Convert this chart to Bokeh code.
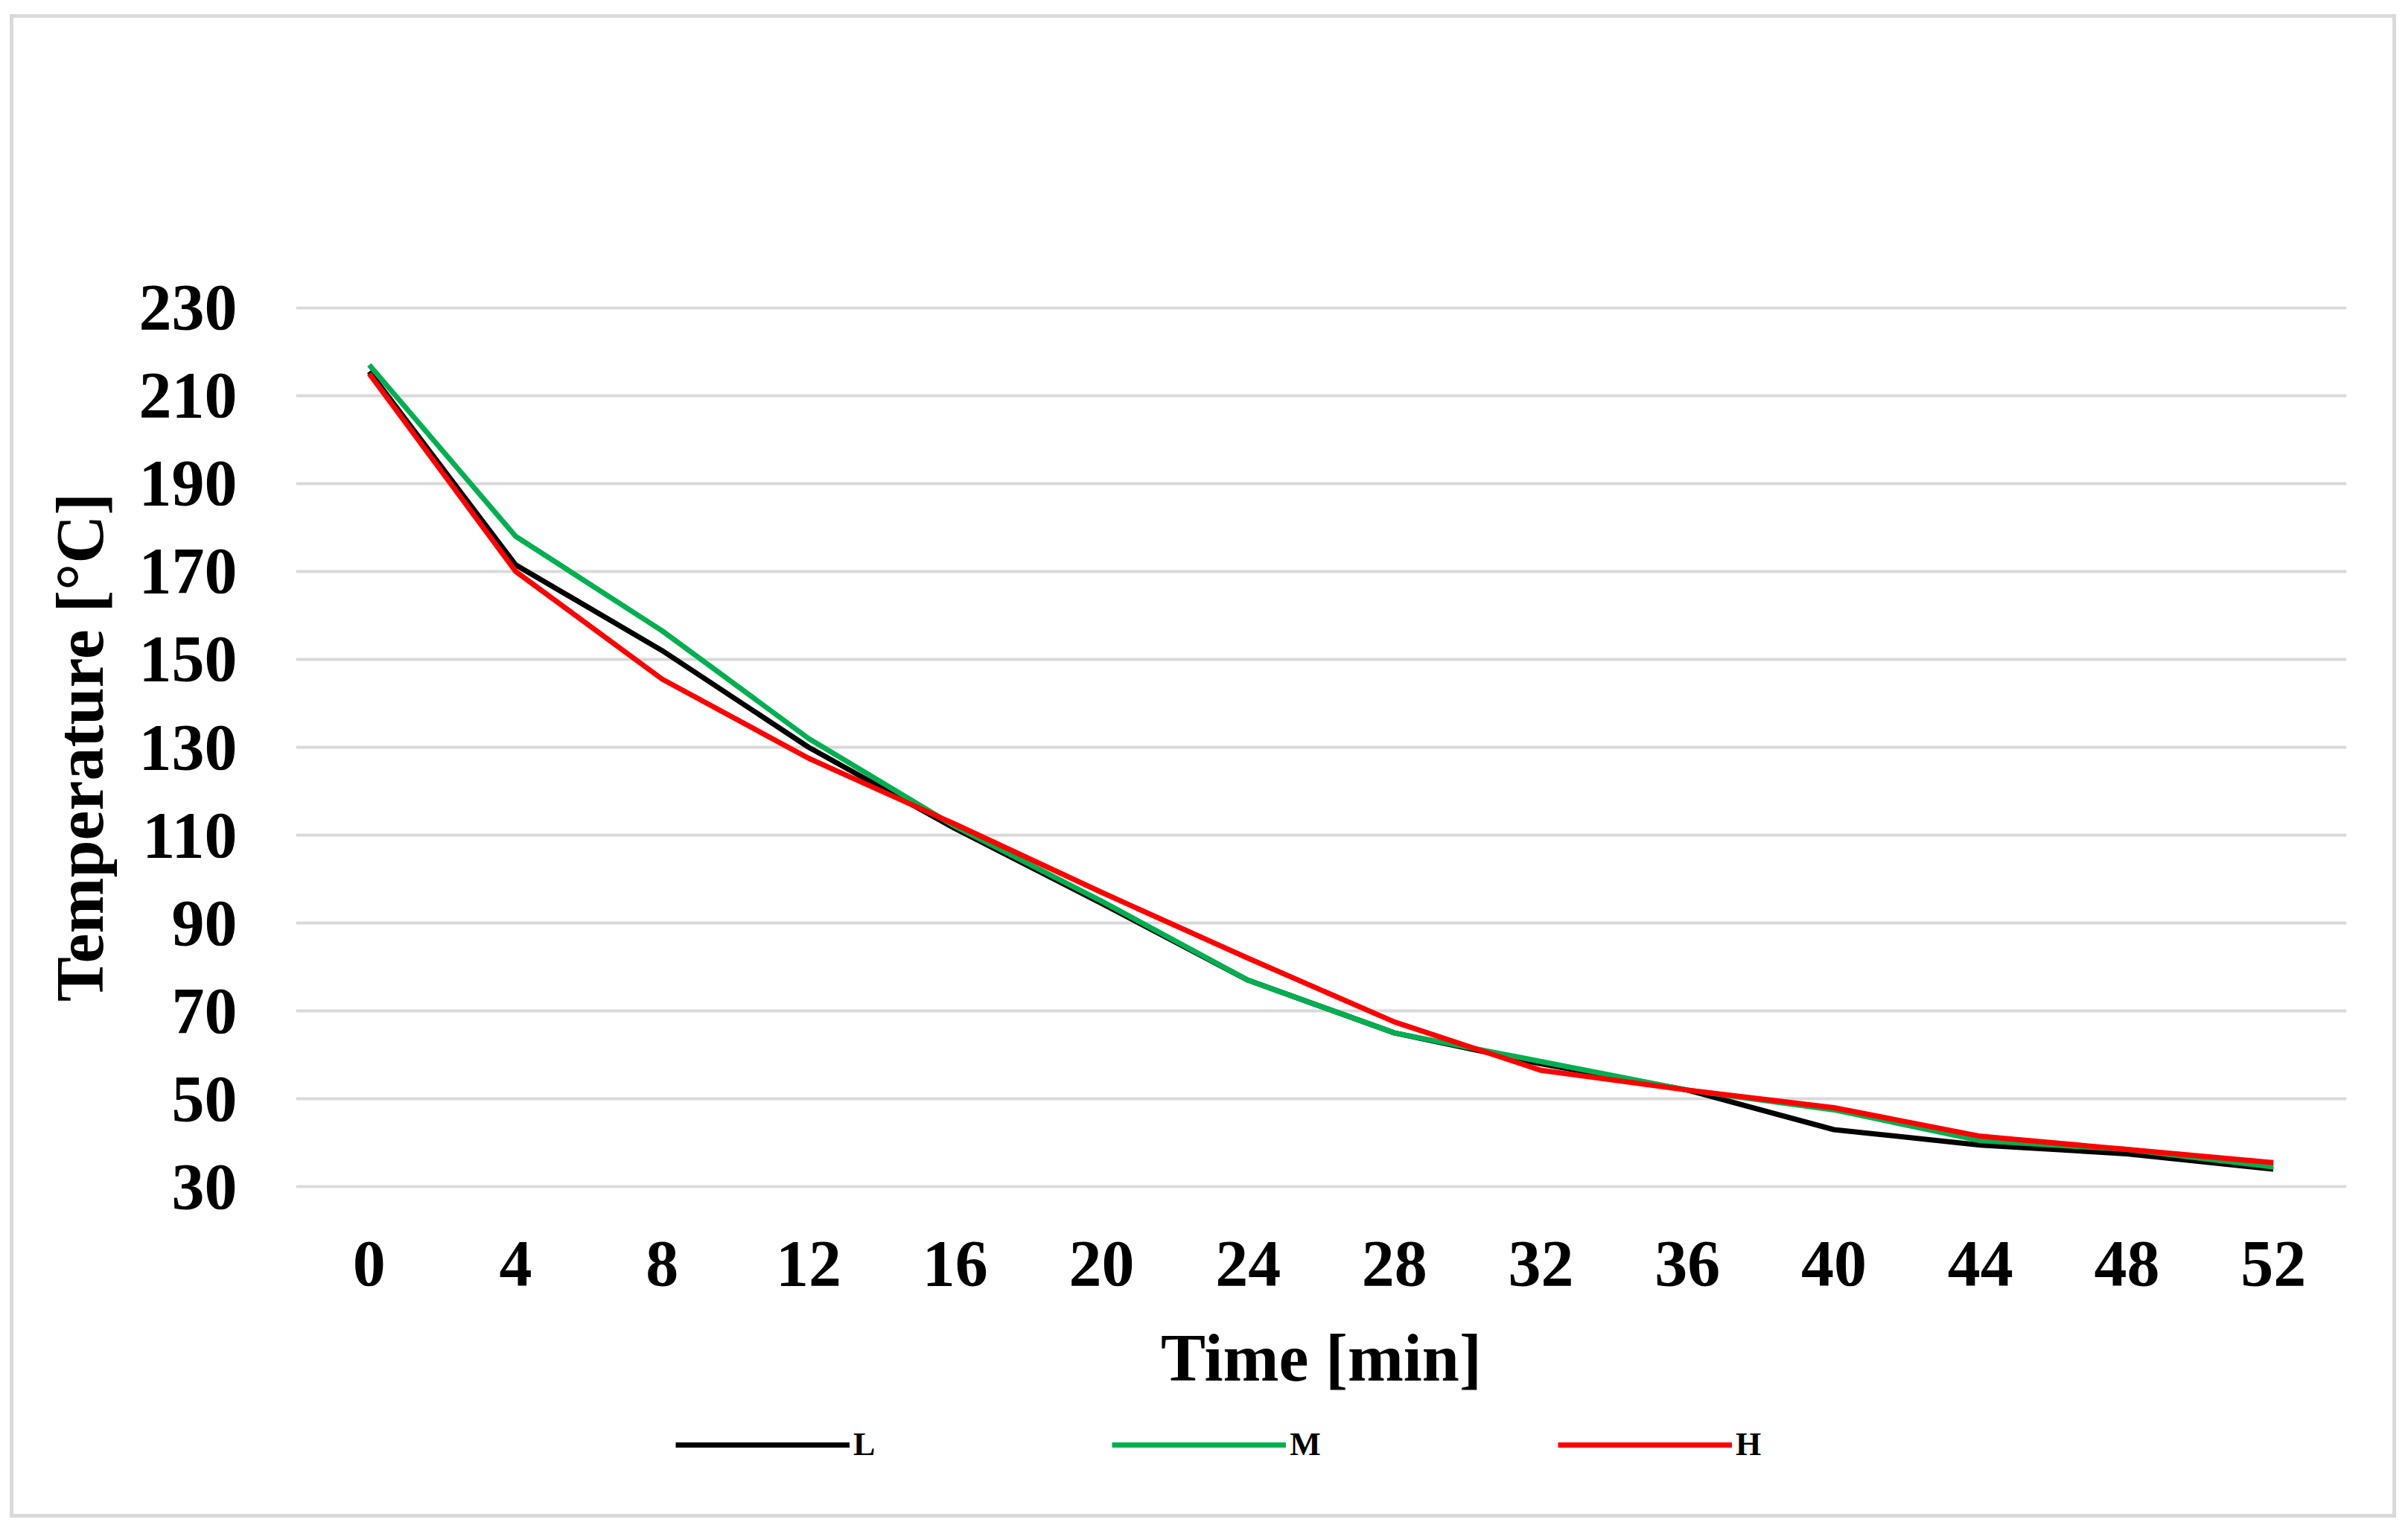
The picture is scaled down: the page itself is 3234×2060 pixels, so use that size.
from bokeh.plotting import figure
from bokeh.models import Range1d, FixedTicker, Legend, LegendItem
from bokeh.layouts import column
from bokeh.embed import file_html
from bokeh.resources import INLINE

# ---- data ----
time_min = [0, 4, 8, 12, 16, 20, 24, 28, 32, 36, 40, 44, 48, 52]
series_L = [215.5, 171.5, 152, 130, 111.5, 94.5, 77, 65, 58, 52, 43, 39.5, 37.5, 34]
series_M = [217, 178, 156.5, 132, 112, 95, 77, 65, 58.5, 52, 47.5, 40.5, 38.5, 34.5]
series_H = [215, 170, 145.5, 127.5, 112.5, 97, 82, 67.5, 56.5, 52, 48, 41.5, 38.5, 35.5]
y_ticks = [30, 50, 70, 90, 110, 130, 150, 170, 190, 210, 230]
series_names = ["L", "M", "H"]
series_colors = ["#000000", "#00b050", "#ff0000"]

FONT = "Liberation Serif"
BORDER = "5px solid #d9d9d9"

# ---- main chart ----
p = figure(width=3205, height=1896, output_backend="svg", toolbar_location=None,
           x_range=Range1d(-2, 54), y_range=Range1d(29.7, 230.3),
           min_border_left=379, min_border_right=72, min_border_top=387,
           min_border_bottom=325)
p.styles = {"border": BORDER, "border-bottom": "none"}
p.outline_line_color = None
p.background_fill_color = "white"
p.border_fill_color = "white"

p.xgrid.grid_line_color = None
p.ygrid.grid_line_color = "#d9d9d9"
p.ygrid.grid_line_width = 4

p.xaxis.ticker = FixedTicker(ticks=time_min)
p.yaxis.ticker = FixedTicker(ticks=y_ticks)

for ax in (p.xaxis, p.yaxis):
    ax.axis_line_color = None
    ax.major_tick_line_color = None
    ax.minor_tick_line_color = None
    ax.major_tick_out = 0
    ax.major_tick_in = 0
    ax.major_label_text_font = FONT
    ax.major_label_text_font_style = "bold"
    ax.major_label_text_font_size = "88px"
    ax.major_label_text_color = "black"
    ax.axis_label_text_font = FONT
    ax.axis_label_text_font_style = "bold"
    ax.axis_label_text_font_size = "90px"
    ax.axis_label_text_color = "black"

p.xaxis.axis_label = "Time [min]"
p.yaxis.axis_label = "Temperature [°C]"
p.xaxis.major_label_standoff = 72
p.xaxis.axis_label_standoff = 45
p.yaxis.major_label_standoff = 79
p.yaxis.axis_label_standoff = 27

all_series = [series_L, series_M, series_H]
for ys, col in zip(all_series, series_colors):
    p.line(time_min, ys, line_color=col, line_width=7)

# ---- legend strip (below the chart, inside the same border) ----
# its frame is aligned with the main chart's frame by the column layout
p2 = figure(width=3205, height=123, output_backend="svg", toolbar_location=None,
            x_range=Range1d(1000, 1001), y_range=Range1d(1000, 1001),
            x_axis_type=None, y_axis_type=None,
            min_border_left=379, min_border_right=72, min_border_top=0, min_border_bottom=30)
p2.styles = {"border": BORDER, "border-top": "none"}
p2.outline_line_color = None
p2.xgrid.grid_line_color = None
p2.ygrid.grid_line_color = None
p2.background_fill_color = "white"
p2.border_fill_color = "white"

# same series, drawn outside this strip's view, only to feed the legend
proxies = [p2.line(time_min, ys, line_color=col, line_width=7)
           for ys, col in zip(all_series, series_colors)]

legend = Legend(items=[LegendItem(label=n, renderers=[r]) for n, r in zip(series_names, proxies)],
                orientation="horizontal", location=(510, 43),
                glyph_width=234, glyph_height=40, label_height=40,
                label_standoff=5, spacing=318, padding=0, margin=0,
                border_line_color=None, background_fill_alpha=0,
                label_text_font=FONT, label_text_font_style="bold",
                label_text_font_size="44px", label_text_color="black")
p2.add_layout(legend, "center")

layout = column(p, p2, margin=(19, 0, 0, 13))
open("out.html", "w").write(file_html(layout, INLINE))
